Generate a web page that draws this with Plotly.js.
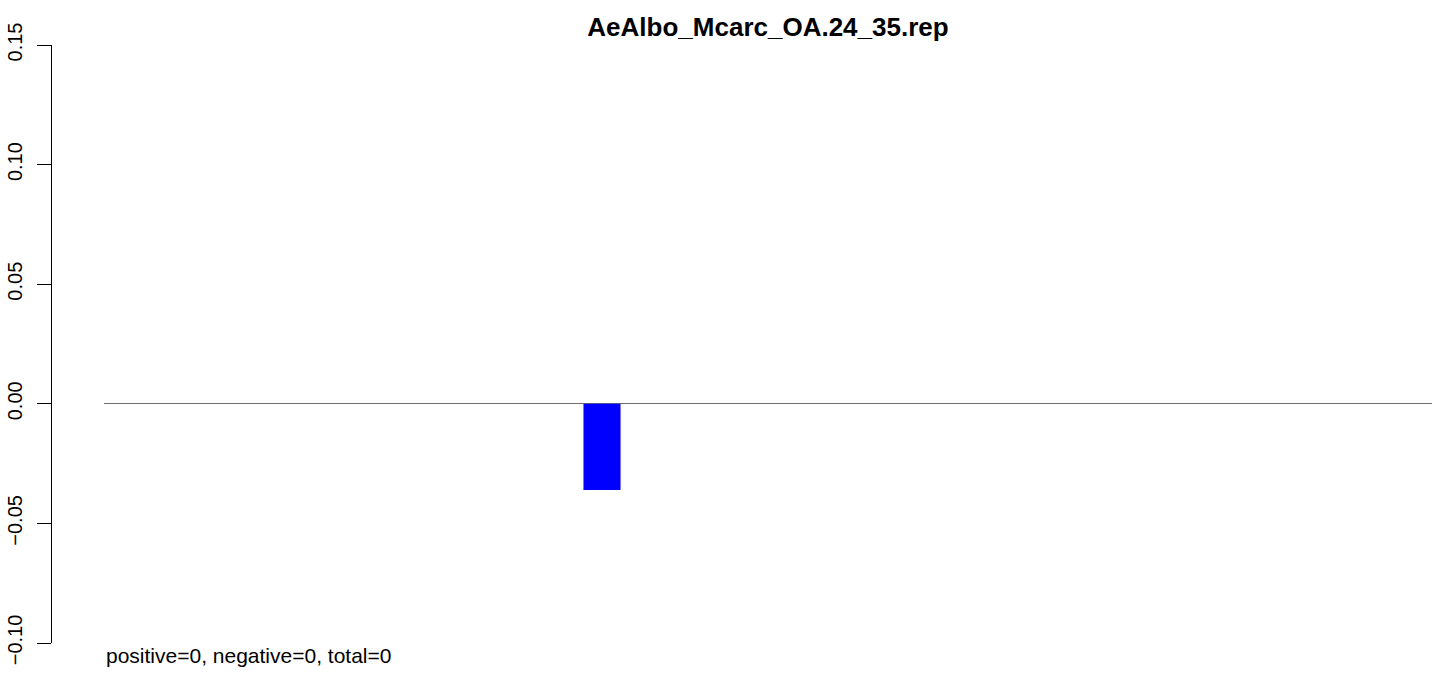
<!DOCTYPE html>
<html>
<head>
<meta charset="utf-8">
<script src="https://cdn.plot.ly/plotly-3.0.1.min.js"></script>
<style>html,body{margin:0;padding:0;background:#fff;}#chart{width:1441px;height:676px;}</style>
</head>
<body>
<div id="chart"></div>
<script>
// Data
const chartTitle = "AeAlbo_Mcarc_OA.24_35.rep";
const positions = [1,2,3,4,5,6,7,8,9,10,11,12,13,14,15,16,17,18,19,20,21,22,23];
const values    = [0,0,0,0,0,0,0,0,-0.036,0,0,0,0,0,0,0,0,0,0,0,0,0,0];
const yTickVals = [-0.10, -0.05, 0.00, 0.05, 0.10, 0.15];
const yTickText = ["\u22120.10", "\u22120.05", "0.00", "0.05", "0.10", "0.15"];
const summaryText = "positive=0, negative=0, total=0";

const FONT = "Liberation Sans, Arial, Helvetica, sans-serif";

const trace = {
  type: "bar",
  x: positions,
  y: values,
  width: 0.67,
  marker: {color: "#0000ff", line: {width: 0}},
  hoverinfo: "skip"
};

const layout = {
  width: 1441,
  height: 676,
  paper_bgcolor: "#ffffff",
  plot_bgcolor: "#ffffff",
  showlegend: false,
  margin: {l: 51, r: 9, t: 45, b: 33, pad: 0},
  title: {
    text: "<b>" + chartTitle + "</b>",
    font: {family: FONT, size: 26, color: "#000000"},
    xref: "container", x: 768 / 1441, xanchor: "center",
    yref: "container", y: 1 - 27 / 676, yanchor: "middle"
  },
  xaxis: {
    domain: [53 / 1381, 1],
    range: [0, 24],
    showgrid: false, zeroline: false, showline: false,
    showticklabels: false, ticks: "", fixedrange: true
  },
  yaxis: {
    anchor: "free", position: 0,
    range: [-0.10, 0.15],
    tickmode: "array", tickvals: yTickVals, ticktext: yTickText,
    ticks: "outside", ticklen: 14, tickwidth: 1, tickcolor: "#000000",
    showline: true, linecolor: "#000000", linewidth: 1,
    showgrid: false,
    zeroline: true, zerolinecolor: "#6e6e6e", zerolinewidth: 1,
    tickangle: -90,
    ticklabelstandoff: 7,
    tickfont: {family: FONT, size: 20, color: "#000000"},
    fixedrange: true
  },
  annotations: [{
    text: summaryText,
    xref: "paper", x: 53 / 1381, xanchor: "left",
    yref: "paper", y: -12 / 598, yanchor: "middle",
    showarrow: false,
    font: {family: FONT, size: 21, color: "#000000"}
  }]
};

Plotly.newPlot("chart", [trace], layout, {displayModeBar: false, staticPlot: true});
</script>
</body>
</html>
